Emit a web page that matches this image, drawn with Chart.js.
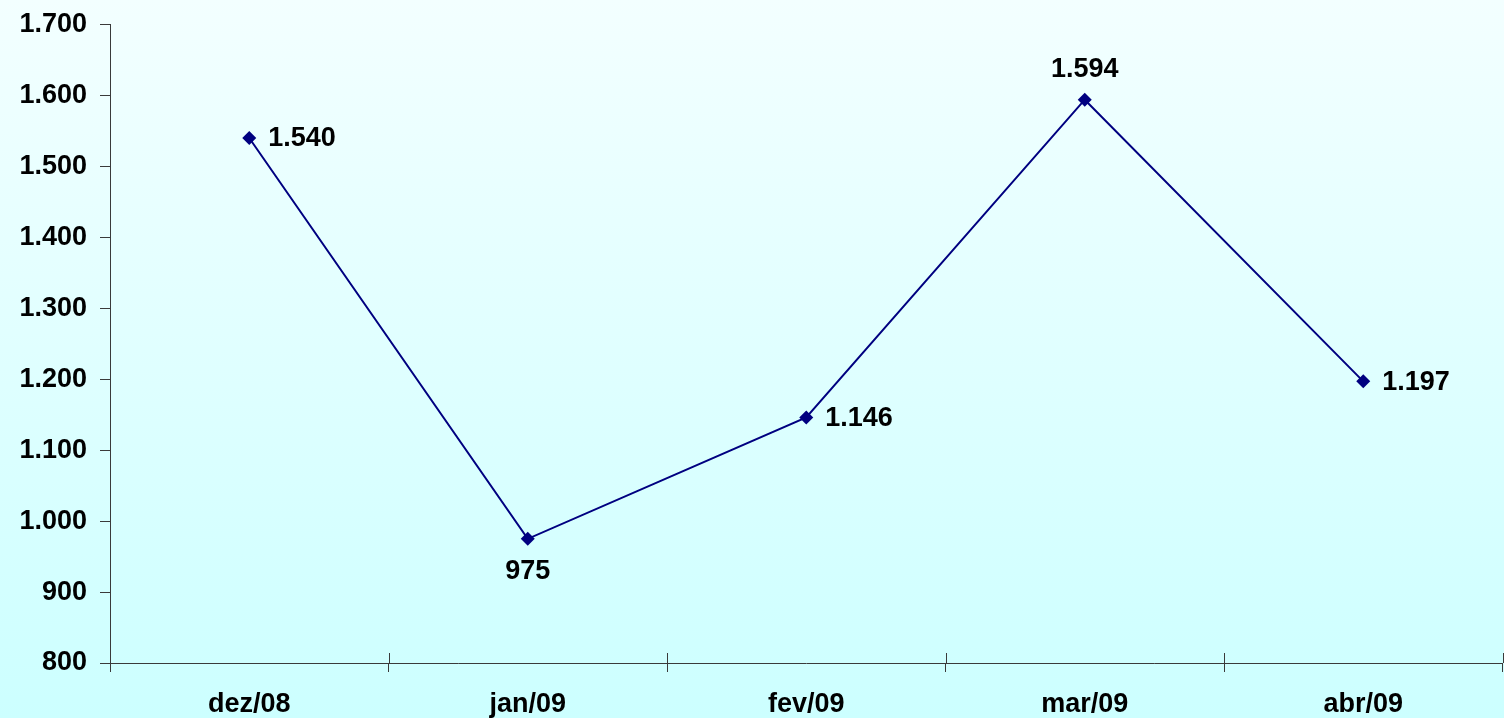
<!DOCTYPE html>
<html lang="pt">

<head>
    <meta charset="UTF-8">
    <script src="https://cdn.jsdelivr.net/npm/chart.js"></script>
    <title>Grafico</title>
    <style>
        html, body {
            margin: 0;
            padding: 0;
        }

        body {
            width: 1504px;
            height: 718px;
            overflow: hidden;
            background: linear-gradient(to bottom, #f3ffff 0%, #ccffff 100%);
        }

        #containerGrafico {
            width: 1504px;
            height: 718px;
        }
    </style>
</head>

<body>
    <div id="containerGrafico">
        <canvas id="grafico" width="1504" height="718"></canvas>
    </div>
</body>

</html>

<script>
    var meses = ["dez/08", "jan/09", "fev/09", "mar/09", "abr/09"];
    var valores = [1540, 975, 1146, 1594, 1197];
    var eixoMin = 800;
    var eixoMax = 1700;
    var eixoPasso = 100;

    // onde fica cada rotulo em relacao ao ponto
    var ladoRotulo = ["direita", "abaixo", "direita", "acima", "direita"];

    var fonte = "'Liberation Sans', Arial, sans-serif";
    var corEixo = "#3a3a3a";

    function formatar(v) {
        return String(v).replace(/\B(?=(\d{3})+(?!\d))/g, ".");
    }

    var pluginRotulos = {
        id: "rotulos",
        afterDatasetsDraw: function (chart) {
            var ctx = chart.ctx;
            var meta = chart.getDatasetMeta(0);
            ctx.save();
            ctx.font = "bold 27px " + fonte;
            ctx.fillStyle = "#000";
            for (var i = 0; i < meta.data.length; i++) {
                var p = meta.data[i];
                var txt = formatar(valores[i]);
                ctx.textBaseline = "middle";
                if (ladoRotulo[i] == "direita") {
                    ctx.textAlign = "left";
                    ctx.fillText(txt, p.x + 19, p.y + 1);
                } else if (ladoRotulo[i] == "abaixo") {
                    ctx.textAlign = "center";
                    ctx.fillText(txt, p.x, p.y + 33);
                } else {
                    ctx.textAlign = "center";
                    ctx.fillText(txt, p.x, p.y - 30);
                }
            }
            ctx.restore();
        }
    };

    // tracinhos do eixo x que cruzam a linha (parte de cima)
    var pluginTracos = {
        id: "tracos",
        afterDraw: function (chart) {
            var ctx = chart.ctx;
            var x = chart.scales.x;
            ctx.save();
            ctx.strokeStyle = corEixo;
            ctx.lineWidth = 1;
            for (var i = 0; i <= meses.length; i++) {
                var px = Math.round(x.getPixelForValue(i - 0.5)) + 0.5;
                ctx.beginPath();
                ctx.moveTo(px, x.top - 10);
                ctx.lineTo(px, x.top);
                ctx.stroke();
            }
            ctx.restore();
        }
    };

    var config = {
        type: "line",
        data: {
            labels: meses,
            datasets: [{
                label: "Valores",
                data: valores,
                borderColor: "#000080",
                backgroundColor: "#000080",
                borderWidth: 2,
                pointStyle: "rectRot",
                pointRadius: 7,
                pointHoverRadius: 7,
                pointBorderWidth: 0,
                tension: 0,
                fill: false
            }]
        },
        options: {
            responsive: false,
            animation: false,
            events: [],
            layout: {
                autoPadding: false,
                padding: { top: 24.5, right: 1.5, left: 0, bottom: 0 }
            },
            plugins: {
                legend: { display: false },
                tooltip: { enabled: false }
            },
            scales: {
                x: {
                    offset: true,
                    afterFit: function (s) {
                        s.height = 55;
                        s.paddingLeft = 0;
                        s.paddingRight = 0;
                    },
                    grid: {
                        offset: true,
                        drawOnChartArea: false,
                        color: corEixo,
                        tickLength: 9
                    },
                    border: { color: corEixo, width: 1 },
                    ticks: {
                        color: "#000",
                        padding: 16,
                        font: { family: fonte, size: 27, weight: "bold" }
                    }
                },
                y: {
                    min: eixoMin,
                    max: eixoMax,
                    afterFit: function (s) {
                        s.width = 110;
                        s.paddingTop = 0;
                        s.paddingBottom = 0;
                    },
                    grid: {
                        drawOnChartArea: false,
                        color: corEixo,
                        tickLength: 10
                    },
                    border: { color: corEixo, width: 1 },
                    ticks: {
                        stepSize: eixoPasso,
                        color: "#000",
                        padding: 13,
                        font: { family: fonte, size: 27, weight: "bold" },
                        callback: function (v) { return formatar(v); }
                    }
                }
            }
        },
        plugins: [pluginRotulos, pluginTracos]
    };

    new Chart(document.getElementById("grafico"), config);
</script>
